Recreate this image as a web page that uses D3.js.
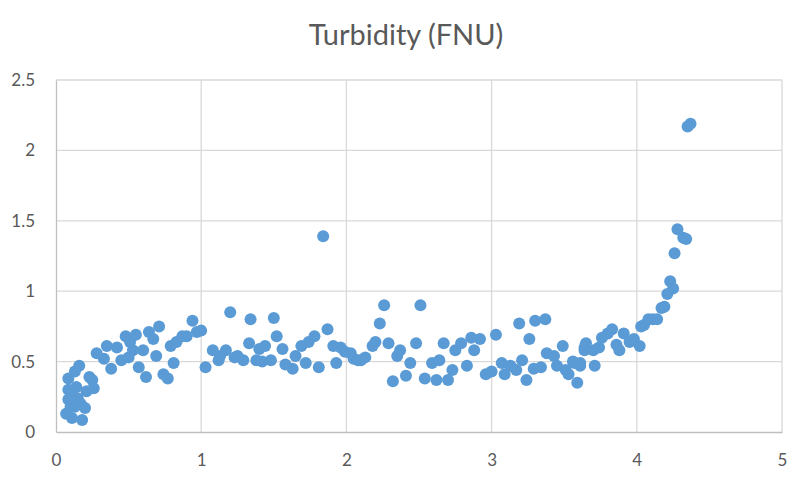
<!DOCTYPE html>
<html>
<head>
<meta charset="utf-8">
<script src="https://cdn.jsdelivr.net/npm/d3@7"></script>
<style>
  body { margin: 0; background: #fff; }
  text { font-family: Lato, "Open Sans", sans-serif; fill: #595959; }
</style>
</head>
<body>
<div id="chart"></div>
<script>
var TITLE = 'Turbidity (FNU)'

var xTicks = [0, 1, 2, 3, 4, 5]
var yTicks = [0, 0.5, 1, 1.5, 2, 2.5]
var yTickLabels = ['0', '0.5', '1', '1.5', '2', '2.5']

// turbidity readings, x and y
var xs = [0.07, 0.085, 0.085, 0.085, 0.10, 0.11, 0.12, 0.13, 0.13, 0.14,
  0.15, 0.16, 0.17, 0.18, 0.20, 0.21, 0.23, 0.25, 0.26, 0.28,
  0.33, 0.35, 0.38, 0.42, 0.45, 0.48, 0.50, 0.51, 0.53, 0.55,
  0.57, 0.60, 0.62, 0.64, 0.67, 0.69, 0.71, 0.74, 0.77, 0.79,
  0.81, 0.83, 0.87, 0.90, 0.94, 0.97, 1.00, 1.03, 1.08, 1.12,
  1.13, 1.17, 1.20, 1.23, 1.25, 1.29, 1.33, 1.34, 1.38, 1.40,
  1.42, 1.44, 1.48, 1.50, 1.52, 1.56, 1.58, 1.63, 1.65, 1.69,
  1.72, 1.74, 1.78, 1.81, 1.84, 1.87, 1.91, 1.93, 1.96, 1.99,
  2.03, 2.05, 2.08, 2.10, 2.13, 2.18, 2.20, 2.23, 2.26, 2.29,
  2.32, 2.35, 2.37, 2.41, 2.44, 2.48, 2.51, 2.54, 2.59, 2.62,
  2.64, 2.67, 2.70, 2.73, 2.75, 2.79, 2.83, 2.86, 2.88, 2.92,
  2.96, 3.00, 3.03, 3.07, 3.09, 3.13, 3.17, 3.19, 3.21, 3.24,
  3.26, 3.29, 3.30, 3.34, 3.37, 3.38, 3.43, 3.45, 3.49, 3.51,
  3.53, 3.56, 3.57, 3.59, 3.61, 3.61, 3.64, 3.64, 3.65, 3.70,
  3.71, 3.74, 3.76, 3.80, 3.83, 3.86, 3.88, 3.91, 3.95, 3.98,
  4.02, 4.03, 4.05, 4.08, 4.11, 4.14, 4.17, 4.19, 4.21, 4.23,
  4.25, 4.26, 4.28, 4.32, 4.34, 4.35, 4.37]
var ys = [0.13, 0.23, 0.30, 0.38, 0.18, 0.10, 0.25, 0.18, 0.43, 0.32,
  0.24, 0.47, 0.20, 0.085, 0.17, 0.29, 0.39, 0.37, 0.31, 0.56,
  0.52, 0.61, 0.45, 0.60, 0.51, 0.68, 0.53, 0.64, 0.58, 0.69,
  0.46, 0.58, 0.39, 0.71, 0.66, 0.54, 0.75, 0.41, 0.38, 0.61,
  0.49, 0.64, 0.68, 0.68, 0.79, 0.71, 0.72, 0.46, 0.58, 0.51,
  0.54, 0.58, 0.85, 0.53, 0.54, 0.51, 0.63, 0.80, 0.51, 0.59,
  0.50, 0.61, 0.51, 0.81, 0.68, 0.59, 0.48, 0.45, 0.54, 0.61,
  0.49, 0.64, 0.68, 0.46, 1.39, 0.73, 0.61, 0.49, 0.60, 0.57,
  0.56, 0.52, 0.51, 0.51, 0.53, 0.61, 0.64, 0.77, 0.90, 0.63,
  0.36, 0.54, 0.58, 0.40, 0.49, 0.63, 0.90, 0.38, 0.49, 0.37,
  0.51, 0.63, 0.37, 0.44, 0.58, 0.63, 0.47, 0.67, 0.58, 0.66,
  0.41, 0.43, 0.69, 0.49, 0.41, 0.47, 0.44, 0.77, 0.51, 0.37,
  0.66, 0.45, 0.79, 0.46, 0.80, 0.56, 0.54, 0.47, 0.61, 0.44,
  0.41, 0.50, 0.49, 0.35, 0.47, 0.49, 0.58, 0.60, 0.63, 0.58,
  0.47, 0.60, 0.67, 0.70, 0.73, 0.62, 0.58, 0.70, 0.64, 0.66,
  0.61, 0.75, 0.76, 0.80, 0.80, 0.80, 0.88, 0.89, 0.98, 1.07,
  1.02, 1.27, 1.44, 1.38, 1.37, 2.17, 2.19]

var WIDTH = 805
var HEIGHT = 481
var LEFT = 56
var RIGHT = 782
var TOP = 80
var BOTTOM = 432

var svg = d3.select('#chart').append('svg')
  .attr('width', WIDTH)
  .attr('height', HEIGHT)

var x = d3.scaleLinear().domain([0, 5]).range([LEFT, RIGHT])
var y = d3.scaleLinear().domain([0, 2.5]).range([BOTTOM, TOP])

// gridlines
svg.append('g').selectAll('line.h')
  .data(yTicks.slice(1))
  .enter().append('line')
  .attr('x1', LEFT).attr('x2', RIGHT)
  .attr('y1', function (d) { return y(d) }).attr('y2', function (d) { return y(d) })
  .attr('stroke', '#d9d9d9').attr('stroke-width', 1.3)

svg.append('g').selectAll('line.v')
  .data(xTicks.slice(1))
  .enter().append('line')
  .attr('x1', function (d) { return x(d) }).attr('x2', function (d) { return x(d) })
  .attr('y1', TOP).attr('y2', BOTTOM)
  .attr('stroke', '#d9d9d9').attr('stroke-width', 1.3)

// axes
var xAxis = svg.append('g')
  .attr('transform', 'translate(0,' + BOTTOM + ')')
  .call(d3.axisBottom(x).tickValues(xTicks).tickSize(0).tickPadding(22).tickFormat(d3.format('d')))
var yAxis = svg.append('g')
  .attr('transform', 'translate(' + LEFT + ',0)')
  .call(d3.axisLeft(y).tickValues(yTicks).tickSize(0).tickPadding(21)
    .tickFormat(function (d, i) { return yTickLabels[i] }))

xAxis.select('.domain').attr('stroke', '#bfbfbf').attr('stroke-width', 1.3)
yAxis.select('.domain').attr('stroke', '#bfbfbf').attr('stroke-width', 1.3)
svg.selectAll('.tick text').style('font-size', '17px').attr('fill', '#595959')

// points
svg.append('g').selectAll('circle')
  .data(xs.map(function (v, i) { return [v, ys[i]] }))
  .enter().append('circle')
  .attr('cx', function (d) { return x(d[0]) })
  .attr('cy', function (d) { return y(d[1]) })
  .attr('r', 6)
  .attr('fill', '#5b9bd5')

svg.append('text')
  .attr('x', 406)
  .attr('y', 45)
  .attr('text-anchor', 'middle')
  .style('font-size', '29px')
  .text(TITLE)
</script>
</body>
</html>
